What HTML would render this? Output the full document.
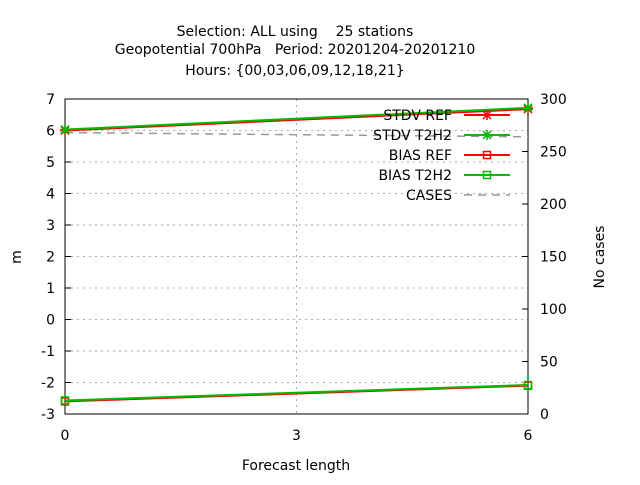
<!DOCTYPE html>
<html><head><meta charset="utf-8"><style>
body{margin:0;background:#fff}
text{font-family:"DejaVu Sans","Liberation Sans",sans-serif;font-size:14px;fill:#000}
</style></head><body>
<svg id="c" width="640" height="480">
<text x="295" y="36" text-anchor="middle" xml:space="preserve">Selection: ALL using    25 stations</text>
<text x="295" y="54" text-anchor="middle" xml:space="preserve">Geopotential 700hPa   Period: 20201204-20201210</text>
<text x="295" y="75" text-anchor="middle">Hours: {00,03,06,09,12,18,21}</text>
<text x="296" y="470" text-anchor="middle">Forecast length</text>
<text transform="translate(21,257) rotate(-90)" text-anchor="middle">m</text>
<text transform="translate(604,257) rotate(-90)" text-anchor="middle">No cases</text>
<g id="g"></g>
</svg>
<script>
const xs=[0,6];
const stdvRef=[6.0,6.68];
const stdvT2=[6.03,6.72];
const biasRef=[-2.6,-2.1];
const biasT2=[-2.57,-2.08];
const cases=[268,264];
const yTicks=[-3,-2,-1,0,1,2,3,4,5,6,7];
const y2Ticks=[0,50,100,150,200,250,300];
const xTicks=[0,3,6];
const L=65,R=528,T=99,B=414;
const X=v=>L+(v-0)/6*(R-L), Y=v=>B-(v+3)/10*(B-T), Y2=v=>B-v/300*(B-T);
const g=document.getElementById('g'),NS='http://www.w3.org/2000/svg';
function mk(t,a,p){const e=document.createElementNS(NS,t);for(const k in a)e.setAttribute(k,a[k]);(p||g).appendChild(e);return e;}
yTicks.forEach(v=>{const y=Y(v);
 if(v>-3&&v<7){const e=mk('line',{x1:L,x2:R,y1:y,y2:y,stroke:'#aaa','stroke-dasharray':'2,4'});}
 const t=mk('line',{x1:L,x2:L+6,y1:y,y2:y,stroke:'#000'});
 const l=mk('text',{x:L-10,y:y+5,'text-anchor':'end'});l.textContent=v;});
y2Ticks.forEach(v=>{const y=Y2(v);
 const t=mk('line',{x1:R-6,x2:R,y1:y,y2:y,stroke:'#000'});
 const l=mk('text',{x:R+12,y:y+5});l.textContent=v;});
xTicks.forEach(v=>{const x=X(v);
 if(v>0&&v<6){const e=mk('line',{x1:x,x2:x,y1:T,y2:B,stroke:'#aaa','stroke-dasharray':'2,4'});}
 const l=mk('text',{x:x,y:B+26,'text-anchor':'middle'});l.textContent=v;});
const fr=mk('rect',{x:L,y:T,width:R-L,height:B-T,fill:'none',stroke:'#000'});
function series(vals,yf,color,name,marker,dash){
 const p=mk('polyline',{points:xs.map((x,i)=>X(x)+','+yf(vals[i])).join(' '),fill:'none',stroke:color,'stroke-width':dash?1.5:2,'stroke-dasharray':dash||''});
 
 xs.forEach((x,i)=>drawMarker(X(x),yf(vals[i]),color,marker));}
function drawMarker(x,y,c,m){
 if(m==='sq'){const e=mk('rect',{x:x-3.5,y:y-3.5,width:7,height:7,fill:'none',stroke:c,'stroke-width':1.5});}
 else if(m==='star'){const e=mk('path',{d:`M${x-4},${y-4}L${x+4},${y+4}M${x-4},${y+4}L${x+4},${y-4}M${x-5},${y}H${x+5}M${x},${y-5}V${y+5}`,stroke:c,'stroke-width':1.5});}}
series(cases,Y2,'#999','cases-line',null,'8,6');
series(stdvRef,Y,'#f00','stdv-ref-line','star');
series(biasRef,Y,'#f00','bias-ref-line','sq');
series(stdvT2,Y,'#0b0','stdv-t2h2-line','star');
series(biasT2,Y,'#0b0','bias-t2h2-line','sq');
const leg=[['STDV REF','#f00','star'],['STDV T2H2','#0b0','star'],['BIAS REF','#f00','sq'],['BIAS T2H2','#0b0','sq'],['CASES','#999',null]];
leg.forEach((d,i)=>{const y=115+i*20;
 const t=mk('text',{x:452,y:y+5,'text-anchor':'end'});t.textContent=d[0];
 const l=mk('line',{x1:464,x2:510,y1:y,y2:y,stroke:d[1],'stroke-width':d[2]?2:1.5,'stroke-dasharray':d[2]?'':'8,6'});
 if(d[2])drawMarker(487,y,d[1],d[2]);});
</script>
</body></html>
